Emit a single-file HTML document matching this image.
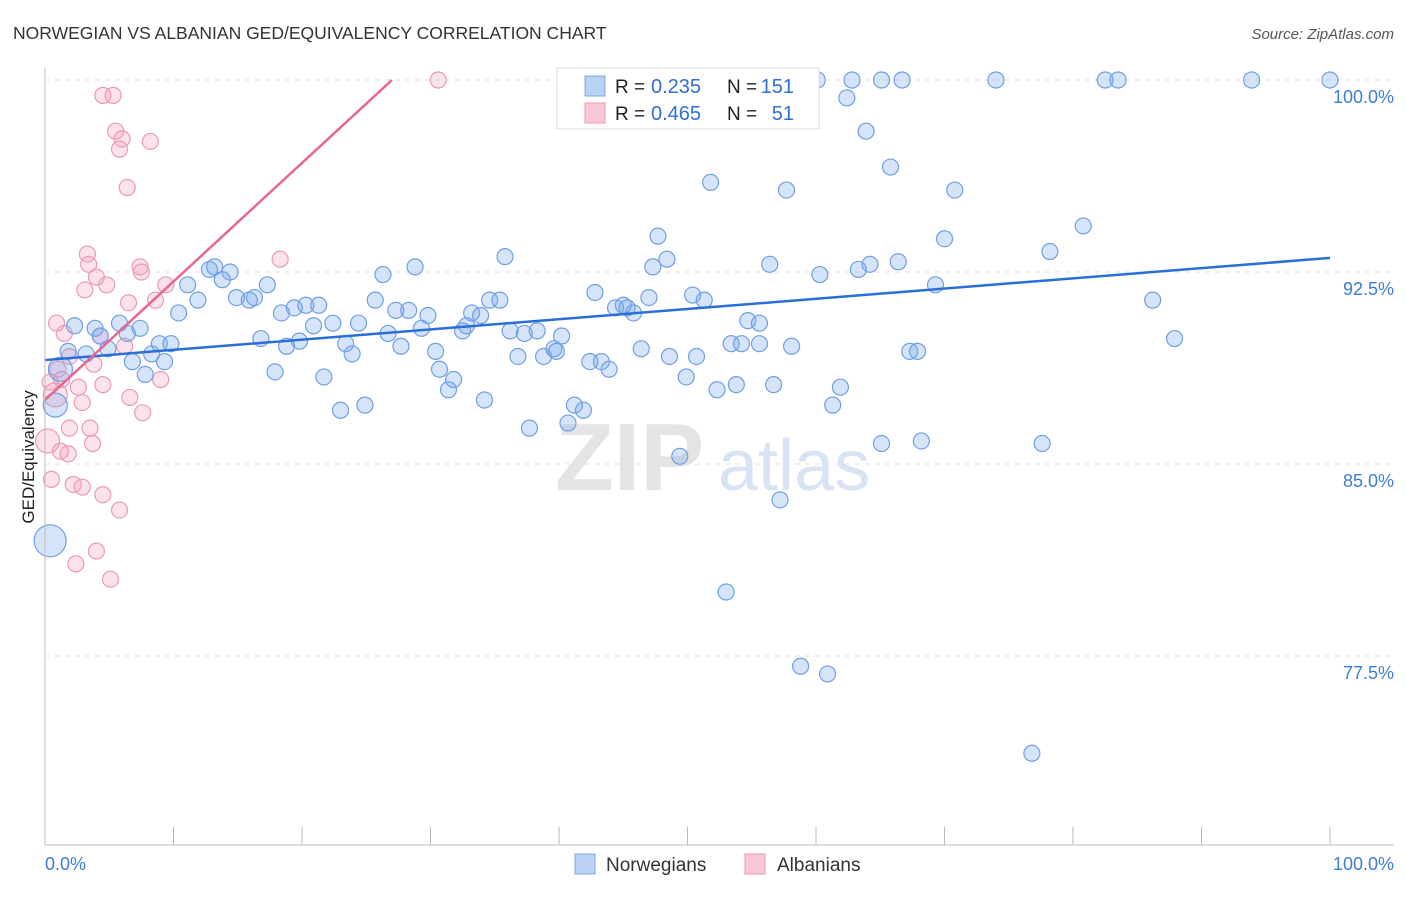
<!DOCTYPE html>
<html><head><meta charset="utf-8"><style>
body{margin:0;background:#fff;font-family:"Liberation Sans",sans-serif}
svg text{font-family:"Liberation Sans",sans-serif}
</style></head><body>
<svg id="chart" width="1406" height="892" viewBox="0 0 1406 892" xmlns="http://www.w3.org/2000/svg">
<text x="13" y="39" font-size="17.5" fill="#333">NORWEGIAN VS ALBANIAN GED/EQUIVALENCY CORRELATION CHART</text>
<text x="1394" y="39" font-size="15" fill="#555" text-anchor="end" font-style="italic">Source: ZipAtlas.com</text>
<g id="grid"></g>
<g><text x="555" y="490" font-size="96" fill="#e4e4e4" font-family="Liberation Serif" font-weight="bold">ZIP</text><text x="718" y="490" font-size="72" fill="#d8e4f4">atlas</text></g>
<g id="pts"></g>
<g id="lines"></g>
<line x1="45" y1="68" x2="45" y2="845" stroke="#bbb"/>
<line x1="45" y1="845" x2="1394" y2="845" stroke="#bbb"/>
<text transform="translate(34,457) rotate(-90)" font-size="17" fill="#222" text-anchor="middle">GED/Equivalency</text>
<text x="45" y="870" font-size="18" fill="#3d7dd8">0.0%</text>
<text x="1394" y="870" font-size="18" fill="#3d7dd8" text-anchor="end">100.0%</text>
<g>
<rect x="557" y="68" width="262" height="61" fill="#fff" stroke="#ddd"/>
<rect x="585" y="76" width="20" height="20" fill="#b9d1f3" stroke="#7ea8e6"/>
<rect x="585" y="103" width="20" height="20" fill="#f8c8d8" stroke="#eb9ab6"/>
<text x="615" y="93" font-size="19" fill="#222">R =</text>
<text x="651" y="93" font-size="20" fill="#2f6fd1">0.235</text>
<text x="727" y="93" font-size="19" fill="#222">N =</text>
<text x="794" y="93" font-size="20" fill="#2f6fd1" text-anchor="end">151</text>
<text x="615" y="120" font-size="19" fill="#222">R =</text>
<text x="651" y="120" font-size="20" fill="#2f6fd1">0.465</text>
<text x="727" y="120" font-size="19" fill="#222">N =</text>
<text x="794" y="120" font-size="20" fill="#2f6fd1" text-anchor="end">51</text>
</g>
<g>
<rect x="575" y="854" width="20" height="20" fill="#b9d1f3" stroke="#7ea8e6"/>
<text x="606" y="871" font-size="19" fill="#333">Norwegians</text>
<rect x="745" y="854" width="20" height="20" fill="#f8c8d8" stroke="#eb9ab6"/>
<text x="777" y="871" font-size="19" fill="#333">Albanians</text>
</g>
</svg>
<script>
const yTicks=[100,92.5,85,77.5];
const yTickLabels=["100.0%","92.5%","85.0%","77.5%"];
const xTicks=[0,10,20,30,40,50,60,70,80,90,100];
const blueX=[60.1,62.8,65.1,66.7,74.0,82.5,83.5,93.9,100,62.4,63.9,65.8,51.8,57.7,70.8,80.8,47.7,70.0,78.2,35.8,48.4,56.4,47.3,66.4,64.2,63.3,60.3,28.8,26.3,13.2,14.4,12.8,13.8,11.1,17.3,11.9,14.9,15.9,16.3,42.8,47.0,50.4,51.3,86.2,69.3,33.2,34.6,35.4,25.7,19.4,20.3,21.3,18.4,10.4,28.3,27.3,29.8,44.4,45.3,45.8,45.0,33.9,54.7,55.6,7.4,5.8,2.3,3.9,22.4,24.4,20.9,29.3,32.8,32.5,26.7,36.2,37.3,38.3,40.2,87.9,16.8,19.8,18.8,23.4,27.7,53.4,54.2,55.6,58.1,46.4,8.9,9.8,8.3,4.9,3.2,1.8,6.4,4.3,23.9,30.4,36.8,38.8,39.6,39.8,48.6,50.7,67.3,67.9,6.8,9.3,42.4,43.3,43.9,30.7,17.9,7.8,21.7,31.8,49.9,53.8,56.7,52.3,61.9,31.4,34.2,24.9,61.3,23.0,41.2,41.9,40.7,37.7,65.1,68.2,77.6,49.4,57.2,53.0,58.8,60.9,76.8,1.2,0.8,0.4];
const blueY=[100,100,100,100,100,100,100,100,100,99.3,98.0,96.6,96.0,95.7,95.7,94.3,93.9,93.8,93.3,93.1,93.0,92.8,92.7,92.9,92.8,92.6,92.4,92.7,92.4,92.7,92.5,92.6,92.2,92.0,92.0,91.4,91.5,91.4,91.5,91.7,91.5,91.6,91.4,91.4,92.0,90.9,91.4,91.4,91.4,91.1,91.2,91.2,90.9,90.9,91.0,91.0,90.8,91.1,91.1,90.9,91.2,90.8,90.6,90.5,90.3,90.5,90.4,90.3,90.5,90.5,90.4,90.3,90.4,90.2,90.1,90.2,90.1,90.2,90.0,89.9,89.9,89.8,89.6,89.7,89.6,89.7,89.7,89.7,89.6,89.5,89.7,89.7,89.3,89.5,89.3,89.4,90.1,90.0,89.3,89.4,89.2,89.2,89.5,89.4,89.2,89.2,89.4,89.4,89.0,89.0,89.0,89.0,88.7,88.7,88.6,88.5,88.4,88.3,88.4,88.1,88.1,87.9,88.0,87.9,87.5,87.3,87.3,87.1,87.3,87.1,86.6,86.4,85.8,85.9,85.8,85.3,83.6,80.0,77.1,76.8,73.7,88.7,87.3,82.0];
const blueR=blueX.map((v,i)=>i===blueX.length-1?16:(i>=blueX.length-3?12:8));
const pinkX=[30.6,4.5,5.3,5.5,6.0,5.8,8.2,6.4,3.3,18.3,3.4,7.4,7.5,4.0,4.8,9.4,3.1,6.5,8.6,0.9,1.5,4.3,6.2,1.9,3.8,1.0,0.4,1.3,2.6,4.5,9.0,6.6,2.9,7.6,1.9,3.5,3.7,0.2,1.2,1.8,0.5,2.2,2.9,4.5,5.8,4.0,2.4,5.1,0.8];
const pinkY=[100,99.4,99.4,98.0,97.7,97.3,97.6,95.8,93.2,93.0,92.8,92.7,92.5,92.3,92.0,92.0,91.8,91.3,91.4,90.5,90.1,90.0,89.6,89.2,88.9,88.7,88.2,88.3,88.0,88.1,88.3,87.6,87.4,87.0,86.4,86.4,85.8,85.9,85.5,85.4,84.4,84.2,84.1,83.8,83.2,81.6,81.1,80.5,87.7];
const blueTrend=[[0,89.06],[100,93.05]];
const pinkTrend=[[0,87.5],[27,100]];
const X=v=>45+v*12.85, Y=v=>80+(100-v)*25.6;
const NS="http://www.w3.org/2000/svg";
function mk(tag,attrs,parent){const e=document.createElementNS(NS,tag);for(const k in attrs)e.setAttribute(k,attrs[k]);parent.appendChild(e);return e;}
const grid=document.getElementById('grid');
yTicks.forEach((t,i)=>{
 const l=mk('line',{x1:45,x2:1394,y1:Y(t),y2:Y(t),stroke:'#e2e2e2','stroke-dasharray':'5,5'},grid);
 
 
 const tx=mk('text',{x:1394,y:Y(t)+23,'font-size':18,fill:'#3d7dd8','text-anchor':'end'},grid);
 tx.textContent=yTickLabels[i];
 
 
});
xTicks.forEach(t=>{
 const l=mk('line',{x1:X(t),x2:X(t),y1:827,y2:845,stroke:'#bbb'},grid);
 
 
});
const pts=document.getElementById('pts');
pinkX.forEach((x,i)=>{
 const c=mk('circle',{cx:X(x),cy:Y(pinkY[i]),r:(i===37||i===48)?12:8,fill:'rgba(244,160,190,0.3)',stroke:'#eb9ab6','stroke-width':1.2},pts);
 
 
});
blueX.forEach((x,i)=>{
 const c=mk('circle',{cx:X(x),cy:Y(blueY[i]),r:blueR[i],fill:'rgba(120,165,235,0.3)',stroke:'#6f9fe4','stroke-width':1.2},pts);
 
 
});
const lines=document.getElementById('lines');
const bl=mk('line',{x1:X(blueTrend[0][0]),y1:Y(blueTrend[0][1]),x2:X(blueTrend[1][0]),y2:Y(blueTrend[1][1]),stroke:'#2a6fd6','stroke-width':2.5},lines);


const pl=mk('line',{x1:X(pinkTrend[0][0]),y1:Y(pinkTrend[0][1]),x2:X(pinkTrend[1][0]),y2:Y(pinkTrend[1][1]),stroke:'#e8668f','stroke-width':2.5},lines);


</script>
</body></html>
